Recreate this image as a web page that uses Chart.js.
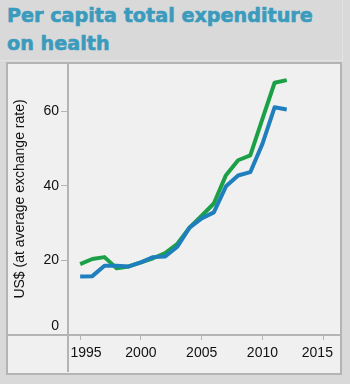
<!DOCTYPE html>
<html>
<head>
<meta charset="utf-8">
<script src="https://cdn.jsdelivr.net/npm/chart.js@4"></script>
<style>
  body { margin: 0; background: #d9d9d9; }
  #wrap { position: relative; width: 350px; height: 384px; overflow: hidden; }
  #card { position: absolute; left: 0; top: 0; width: 342px; height: 60px; border-right: 1px solid #e3e3e3; border-bottom: 1px solid #e3e3e3; }
  #titulo { position: absolute; left: 7px; top: 2px; font: bold 19.2px "DejaVu Sans", sans-serif; line-height: 27.5px; color: #3b9bbd; -webkit-text-stroke: 0.6px #3b9bbd; white-space: nowrap; }
  #painel { position: absolute; left: 6px; top: 62px; width: 332px; height: 309px; border: 2px solid #b4b4b4; background: #f0f0f0; }
  #grafico { position: absolute; left: 0; top: 0; }
</style>
</head>
<body>
<div id="wrap">
  <div id="card"></div>
  <div id="titulo">Per capita total expenditure<br>on health</div>
  <div id="painel"></div>
  <canvas id="grafico" width="350" height="384"></canvas>
</div>
<script>
  const anos = [1995, 1996, 1997, 1998, 1999, 2000, 2001, 2002, 2003, 2004, 2005, 2006, 2007, 2008, 2009, 2010, 2011, 2012];
  const serieVerde = [19.0, 20.4, 20.9, 17.9, 18.4, 19.5, 20.6, 22.0, 24.5, 28.8, 32.0, 35.3, 42.9, 46.9, 48.2, 58.0, 67.7, 68.4];
  const serieAzul = [15.7, 15.8, 18.6, 18.6, 18.4, 19.5, 20.9, 21.1, 23.7, 28.8, 31.3, 32.9, 39.9, 42.8, 43.7, 51.3, 61.1, 60.5];
  const ticksAnos = [1995, 2000, 2005, 2010, 2015];
  const ticksValores = [0, 20, 40, 60];

  // linhas divisórias do painel (eixo x e eixo y atravessando tudo)
  const divisorias = {
    id: "divisorias",
    beforeDatasetsDraw(chart) {
      const ctx = chart.ctx;
      const area = chart.chartArea;
      ctx.save();
      ctx.strokeStyle = "#b4b4b4";
      ctx.lineWidth = 2;
      ctx.beginPath();
      ctx.moveTo(area.left, 63);
      ctx.lineTo(area.left, 372);
      ctx.moveTo(7, area.bottom);
      ctx.lineTo(341, area.bottom);
      ctx.stroke();
      ctx.restore();
    }
  };

  const fonte = { family: "'Liberation Sans', Arial, sans-serif", size: 14 };

  // primeiro e último ano ficam puxados para dentro do painel
  function rotuloAno(v, i, ticks) {
    if (i === 0) return "   " + v;
    if (i === ticks.length - 1) return v + "   ";
    return String(v);
  }

  new Chart(document.getElementById("grafico").getContext("2d"), {
    type: "line",
    data: {
      datasets: [
        {
          label: "Azul",
          data: anos.map((a, i) => ({ x: a, y: serieAzul[i] })),
          borderColor: "#1f7fbd",
          borderWidth: 4,
          pointRadius: 0,
          tension: 0,
          borderJoinStyle: "round"
        },
        {
          label: "Verde",
          data: anos.map((a, i) => ({ x: a, y: serieVerde[i] })),
          borderColor: "#1ca047",
          borderWidth: 4,
          pointRadius: 0,
          tension: 0,
          borderJoinStyle: "round"
        }
      ]
    },
    options: {
      responsive: false,
      animation: false,
      layout: { padding: { left: 6, right: 9, top: 63, bottom: 10 } },
      plugins: { legend: { display: false }, tooltip: { enabled: false } },
      scales: {
        x: {
          type: "linear",
          min: 1994,
          max: 2016,
          afterBuildTicks: (s) => { s.ticks = ticksAnos.map(v => ({ value: v })); },
          afterFit: (s) => { s.height = 39; },
          border: { display: false },
          grid: { drawOnChartArea: false, color: "#b4b4b4", tickLength: 5 },
          ticks: { color: "#111", font: fonte, padding: 5, maxRotation: 0, callback: rotuloAno }
        },
        y: {
          min: 0,
          max: 73,
          afterBuildTicks: (s) => { s.ticks = ticksValores.map(v => ({ value: v })); },
          afterFit: (s) => { s.width = 62; },
          border: { display: false },
          grid: { drawOnChartArea: false, color: "#b4b4b4", tickLength: 7 },
          // o zero fica acima da linha divisória
          ticks: { color: "#111", font: fonte, padding: 2, callback: v => (v === 0 ? ["0", ""] : String(v)) },
          title: {
            display: true,
            text: "US$ (at average exchange rate)",
            color: "#111",
            font: fonte,
            padding: { top: 6, bottom: 0 }
          }
        }
      }
    },
    plugins: [divisorias]
  });
</script>
</body>
</html>
